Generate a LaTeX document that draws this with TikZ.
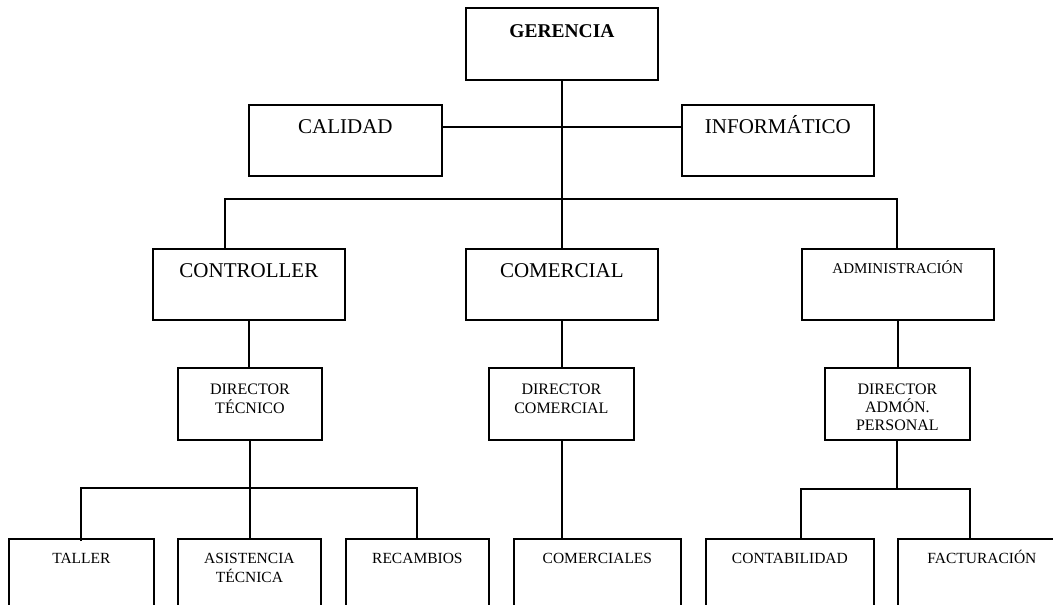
\documentclass[tikz,border=0pt]{standalone}
\usepackage{fontspec}
\setmainfont{Liberation Serif}
\newcommand\boxtext[6]{\parbox[t][#2pt][t]{#1pt}{\centering\fontsize{#4pt}{#5pt}\selectfont\rule{0pt}{#3pt}#6}}
\tikzset{
  orgbox/.style={draw, line width=1.8pt, inner sep=0pt, anchor=north west, fill=white},
  conn/.style={line width=1.6pt},
}
\begin{document}
\begin{tikzpicture}[x=1pt,y=-1pt]
\useasboundingbox (0,0) rectangle (1053,605);
\clip (0,0) rectangle (1053,605);
\coordinate (hl) at (561,127);
\coordinate (busL) at (225,199);
\coordinate (busR) at (897,199);
\coordinate (b2L) at (81,488);
\coordinate (b2R) at (417,488);
\coordinate (b3L) at (801,489);
\coordinate (b3M) at (897,489);
\coordinate (b3R) at (970,489);
% nodes
\node[orgbox] (ger) at (465,7) {\boxtext{192}{72}{30}{19.5}{22}{\bfseries GERENCIA}};
\node[orgbox] (cal) at (248,104) {\boxtext{193}{71}{29}{21}{24}{CALIDAD}};
\node[orgbox] (inf) at (681,104) {\boxtext{192}{71}{29}{21}{24}{INFORMÁTICO}};
\node[orgbox] (con) at (152,248) {\boxtext{192}{71}{29}{21}{24}{CONTROLLER}};
\node[orgbox] (com) at (465,248) {\boxtext{192}{71}{29}{21}{24}{COMERCIAL}};
\node[orgbox] (adm) at (801,248) {\boxtext{192}{71}{25}{15}{18}{ADMINISTRACIÓN}};
\node[orgbox] (dt) at (177,367) {\boxtext{144}{72}{27}{16}{18.5}{DIRECTOR\\TÉCNICO}};
\node[orgbox] (dc) at (488,367) {\boxtext{145}{72}{27}{16}{18.5}{DIRECTOR\\COMERCIAL}};
\node[orgbox] (dap) at (824,367) {\boxtext{145}{72}{27}{16}{18}{DIRECTOR\\ADMÓN.\\PERSONAL}};
\node[orgbox] (tal) at (8,538) {\boxtext{145}{80}{25}{15.5}{19}{TALLER}};
\node[orgbox] (asi) at (177,538) {\boxtext{143}{80}{25}{15.5}{19}{ASISTENCIA\\TÉCNICA}};
\node[orgbox] (rec) at (345,538) {\boxtext{143}{80}{25}{15.5}{19}{RECAMBIOS}};
\node[orgbox] (cms) at (513,538) {\boxtext{167}{80}{25}{15.5}{19}{COMERCIALES}};
\node[orgbox] (cnt) at (705,538) {\boxtext{168}{80}{25}{15.5}{19}{CONTABILIDAD}};
\node[orgbox] (fac) at (897,538) {\boxtext{168}{80}{25}{15.5}{19}{FACTURACIÓN}};
% connectors
\draw[conn] (ger.south) -- (ger.south |- com.north);
\draw[conn] (cal.east |- hl) -- (inf.west |- hl);
\draw[conn] (busL |- con.north) -- (busL) -- (busR) -- (busR |- adm.north);
\draw[conn] (con.south) -- (con.south |- dt.north);
\draw[conn] (com.south) -- (com.south |- dc.north);
\draw[conn] (adm.south) -- (adm.south |- dap.north);
\draw[conn] (dt.south) -- (dt.south |- asi.north);
\draw[conn] ([yshift=-3pt]b2L |- tal.north) -- (b2L) -- (b2R) -- (b2R |- rec.north);
\draw[conn] (com.south |- dc.south) -- (com.south |- cms.north);
\draw[conn] (b3M |- dap.south) -- (b3M);
\draw[conn] (b3L |- cnt.north) -- (b3L) -- (b3R) -- (b3R |- fac.north);
\end{tikzpicture}
\end{document}
